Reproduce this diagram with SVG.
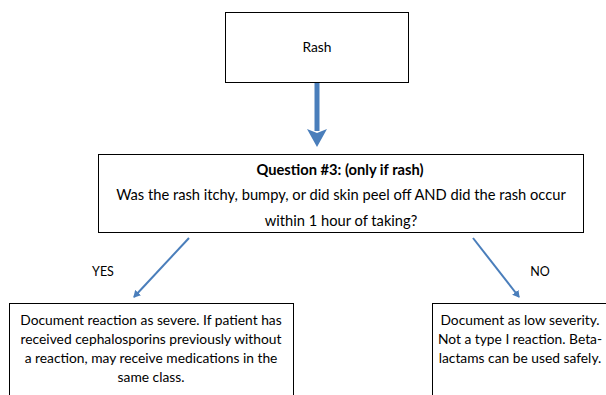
<svg xmlns="http://www.w3.org/2000/svg" width="606" height="395" viewBox="0 0 606 395">
<defs>
<style>
.box{fill:#fff;stroke:#000;stroke-width:1}
text{font-family:Lato,"Liberation Sans",sans-serif;fill:#000;text-anchor:middle}
.t{font-size:13.8px}
.q{font-size:14.7px}
.l{font-size:12.5px}
.thin{stroke:#4a7ebb;stroke-width:2;fill:none}
</style>
<marker id="ah" markerWidth="8" markerHeight="8" refX="6" refY="4" orient="auto" markerUnits="userSpaceOnUse">
<path d="M0,0 L7,4 L0,8 z" fill="#4a7ebb"/>
</marker>
</defs>
<rect width="606" height="395" fill="#fff"/>
<g id="rash">
<rect class="box" x="225.5" y="12.5" width="183" height="70"/>
<text class="t" x="317" y="52">Rash</text>
</g>
<g id="question">
<rect class="box" x="98.5" y="154.5" width="485" height="78"/>
<text class="q" x="340" y="175" font-weight="bold">Question #3: (only if rash)</text>
<text class="q" x="341" y="200">Was the rash itchy, bumpy, or did skin peel off AND did the rash occur</text>
<text class="q" x="341" y="226">within 1 hour of taking?</text>
</g>
<g id="yes-result">
<rect class="box" x="9.5" y="303.5" width="284" height="100"/>
<text class="t" x="151" y="325">Document reaction as severe. If patient has</text>
<text class="t" x="151" y="344">received cephalosporins previously without</text>
<text class="t" x="151" y="363">a reaction, may receive medications in the</text>
<text class="t" x="151" y="382">same class.</text>
</g>
<g id="no-result">
<rect class="box" x="432.5" y="303.5" width="180" height="100"/>
<text class="t" x="520" y="325">Document as low severity.</text>
<text class="t" x="520" y="344">Not a type I reaction. Beta-</text>
<text class="t" x="520" y="363">lactams can be used safely.</text>
</g>
<g id="connectors">
<line x1="317" y1="83" x2="317" y2="131" stroke="#4a7ebb" stroke-width="5"/>
<path d="M307,129 L317,147 L327,129 L317,133 z" fill="#4a7ebb"/>
<line class="thin" x1="189" y1="238" x2="134" y2="297" marker-end="url(#ah)"/>
<line class="thin" x1="473" y1="238" x2="519" y2="297" marker-end="url(#ah)"/>
<text class="l" x="103" y="276">YES</text>
<text class="l" x="540" y="276">NO</text>
</g>
</svg>
